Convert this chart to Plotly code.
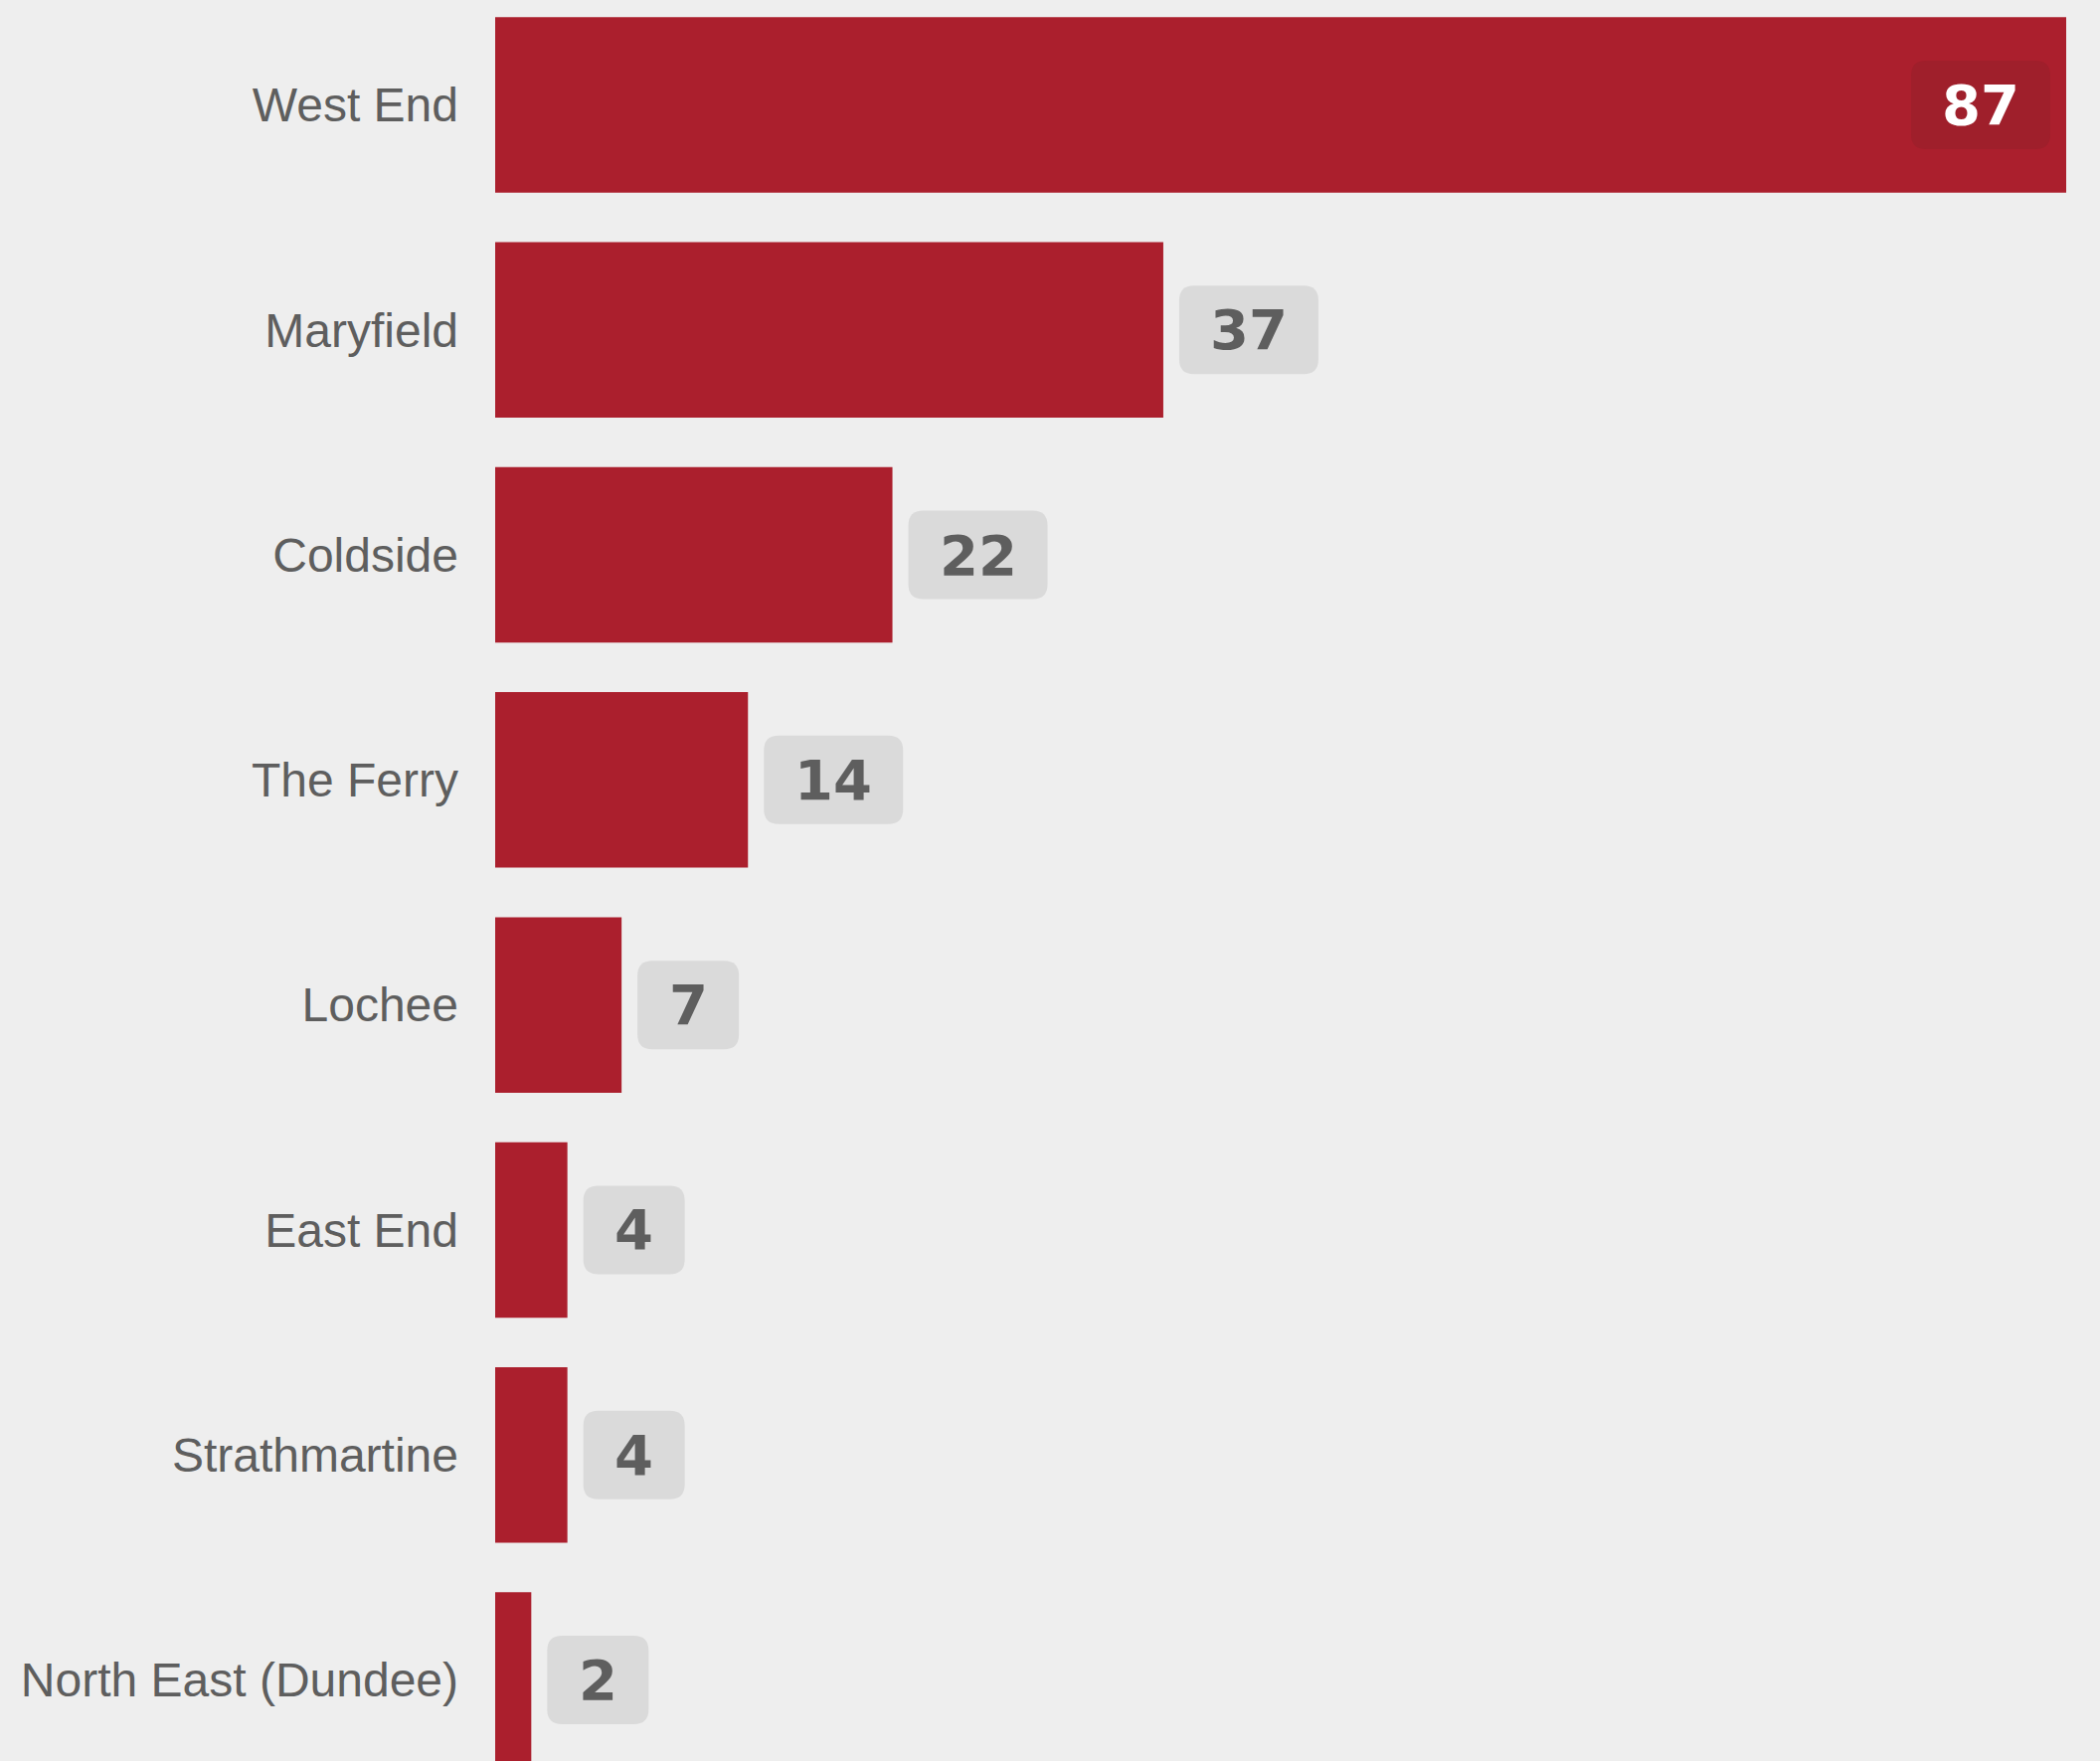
import plotly.graph_objects as go

wards = ["West End", "Maryfield", "Coldside", "The Ferry", "Lochee",
         "East End", "Strathmartine", "North East (Dundee)"]
counts = [87, 37, 22, 14, 7, 4, 4, 2]

BAR = "#ab1f2d"
BG = "#eeeeee"
GREY = "#5e5e5e"


def rounded_box(x0, w, h, r):
    """Rounded rectangle path in pixel offsets, left edge at x0, centred on y=0."""
    x1 = x0 + w
    t, b = h / 2, -h / 2
    return (f"M {x0 + r},{b} L {x1 - r},{b} Q {x1},{b} {x1},{b + r} "
            f"L {x1},{t - r} Q {x1},{t} {x1 - r},{t} L {x0 + r},{t} "
            f"Q {x0},{t} {x0},{t - r} L {x0},{b + r} Q {x0},{b} {x0 + r},{b} Z")


fig = go.Figure(go.Bar(
    x=counts, y=list(range(len(wards))), orientation="h",
    marker=dict(color=BAR, line_width=0), width=0.78,
    hoverinfo="skip",
))

vmax = max(counts)
for i, v in enumerate(counts):
    w = 64 + 38 * len(str(v))
    inside = v == vmax
    left = -16 - w if inside else 16
    fig.add_shape(
        type="path", xref="x", yref="y",
        xsizemode="pixel", ysizemode="pixel",
        xanchor=v, yanchor=i,
        path=rounded_box(left, w, 89, 15),
        fillcolor="#9f1f2b" if inside else "#dadada",
        line_width=0, layer="above",
    )
    fig.add_annotation(
        x=v, y=i, xref="x", yref="y", text=str(v), showarrow=False,
        xshift=left + w / 2, yshift=0,
        font=dict(family="DejaVu Sans", size=56,
                  color="white" if inside else GREY, weight="bold"),
    )

fig.update_xaxes(range=[0, vmax], visible=False, fixedrange=True)
fig.update_yaxes(
    range=[len(wards) - 1 + 0.36, -0.466],
    tickmode="array", tickvals=list(range(len(wards))), ticktext=wards,
    showgrid=False, zeroline=False, showline=False, ticks="",
    ticklabelstandoff=36,
    tickfont=dict(family="Liberation Sans", size=48, color=GREY),
)
fig.update_layout(
    width=2112, height=1771,
    margin=dict(l=498, r=34, t=0, b=0),
    paper_bgcolor=BG, plot_bgcolor=BG,
    showlegend=False,
)

fig.write_html("out.html", config={"displayModeBar": False},
               post_script="document.body.style.margin='0';")
